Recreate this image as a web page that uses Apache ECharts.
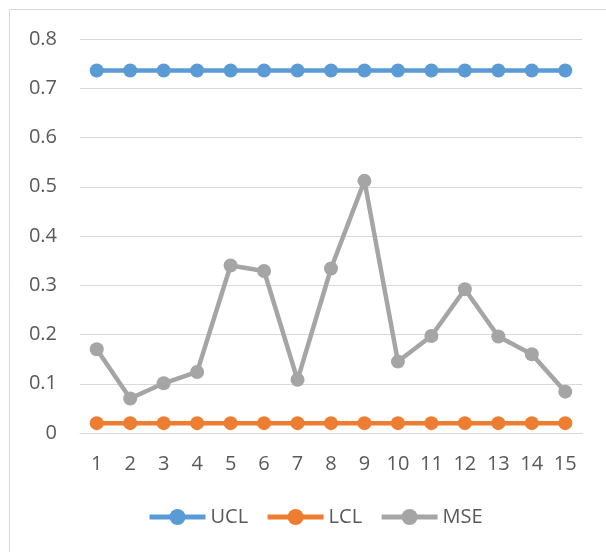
<!DOCTYPE html>
<html>
<head>
<meta charset="utf-8">
<script src="https://cdn.jsdelivr.net/npm/echarts@6/dist/echarts.min.js"></script>
<style>
  html, body { margin: 0; padding: 0; background: #ffffff; }
  #chart { width: 606px; height: 552px; }
</style>
</head>
<body>
<div id="chart"></div>
<script>
var categories = ['1','2','3','4','5','6','7','8','9','10','11','12','13','14','15'];
var ucl = [0.736,0.736,0.736,0.736,0.736,0.736,0.736,0.736,0.736,0.736,0.736,0.736,0.736,0.736,0.736];
var lcl = [0.02,0.02,0.02,0.02,0.02,0.02,0.02,0.02,0.02,0.02,0.02,0.02,0.02,0.02,0.02];
var mse = [0.170,0.070,0.101,0.124,0.340,0.329,0.108,0.334,0.512,0.145,0.197,0.292,0.196,0.160,0.084];
var seriesNames = ['UCL','LCL','MSE'];
var colors = ['#5B9BD5','#ED7D31','#A5A5A5'];

var font = '"Open Sans", "Liberation Sans", sans-serif';
var chart = echarts.init(document.getElementById('chart'), null, {renderer: 'canvas'});

function mk(name, data, color) {
  return {
    name: name,
    type: 'line',
    data: data,
    symbol: 'circle',
    symbolSize: 14,
    showSymbol: true,
    lineStyle: { color: color, width: 4.5 },
    itemStyle: { color: color },
    emphasis: { disabled: true },
    animation: false
  };
}

chart.setOption({
  backgroundColor: '#ffffff',
  animation: false,
  graphic: [{
    type: 'rect',
    shape: { x: 9.5, y: 9.5, width: 800, height: 800 },
    style: { fill: 'none', stroke: '#D9D9D9', lineWidth: 1 },
    silent: true
  }],
  grid: { left: 80, right: 24, top: 39, bottom: 119, containLabel: false },
  legend: {
    data: seriesNames,
    left: 147,
    top: 507,
    padding: 0,
    itemWidth: 56,
    itemHeight: 20,
    itemGap: 17,
    lineStyle: { width: 5 },
    textStyle: { color: '#595959', fontSize: 20, fontFamily: font, lineHeight: 20 }
  },
  xAxis: {
    type: 'category',
    data: categories,
    boundaryGap: true,
    axisLine: { show: true, lineStyle: { color: '#D9D9D9', width: 1 } },
    axisTick: { show: false },
    axisLabel: { color: '#595959', fontSize: 20, fontFamily: font, margin: 21, interval: 0 }
  },
  yAxis: {
    type: 'value',
    min: 0,
    max: 0.8,
    interval: 0.1,
    axisLine: { show: false },
    axisTick: { show: false },
    splitLine: { lineStyle: { color: '#D9D9D9', width: 1 } },
    axisLabel: {
      color: '#595959', fontSize: 20, fontFamily: font, margin: 23,
      formatter: function (v) { return v === 0 ? '0' : v.toFixed(1); }
    }
  },
  series: [
    mk(seriesNames[0], ucl, colors[0]),
    mk(seriesNames[1], lcl, colors[1]),
    mk(seriesNames[2], mse, colors[2])
  ]
});
</script>
</body>
</html>
